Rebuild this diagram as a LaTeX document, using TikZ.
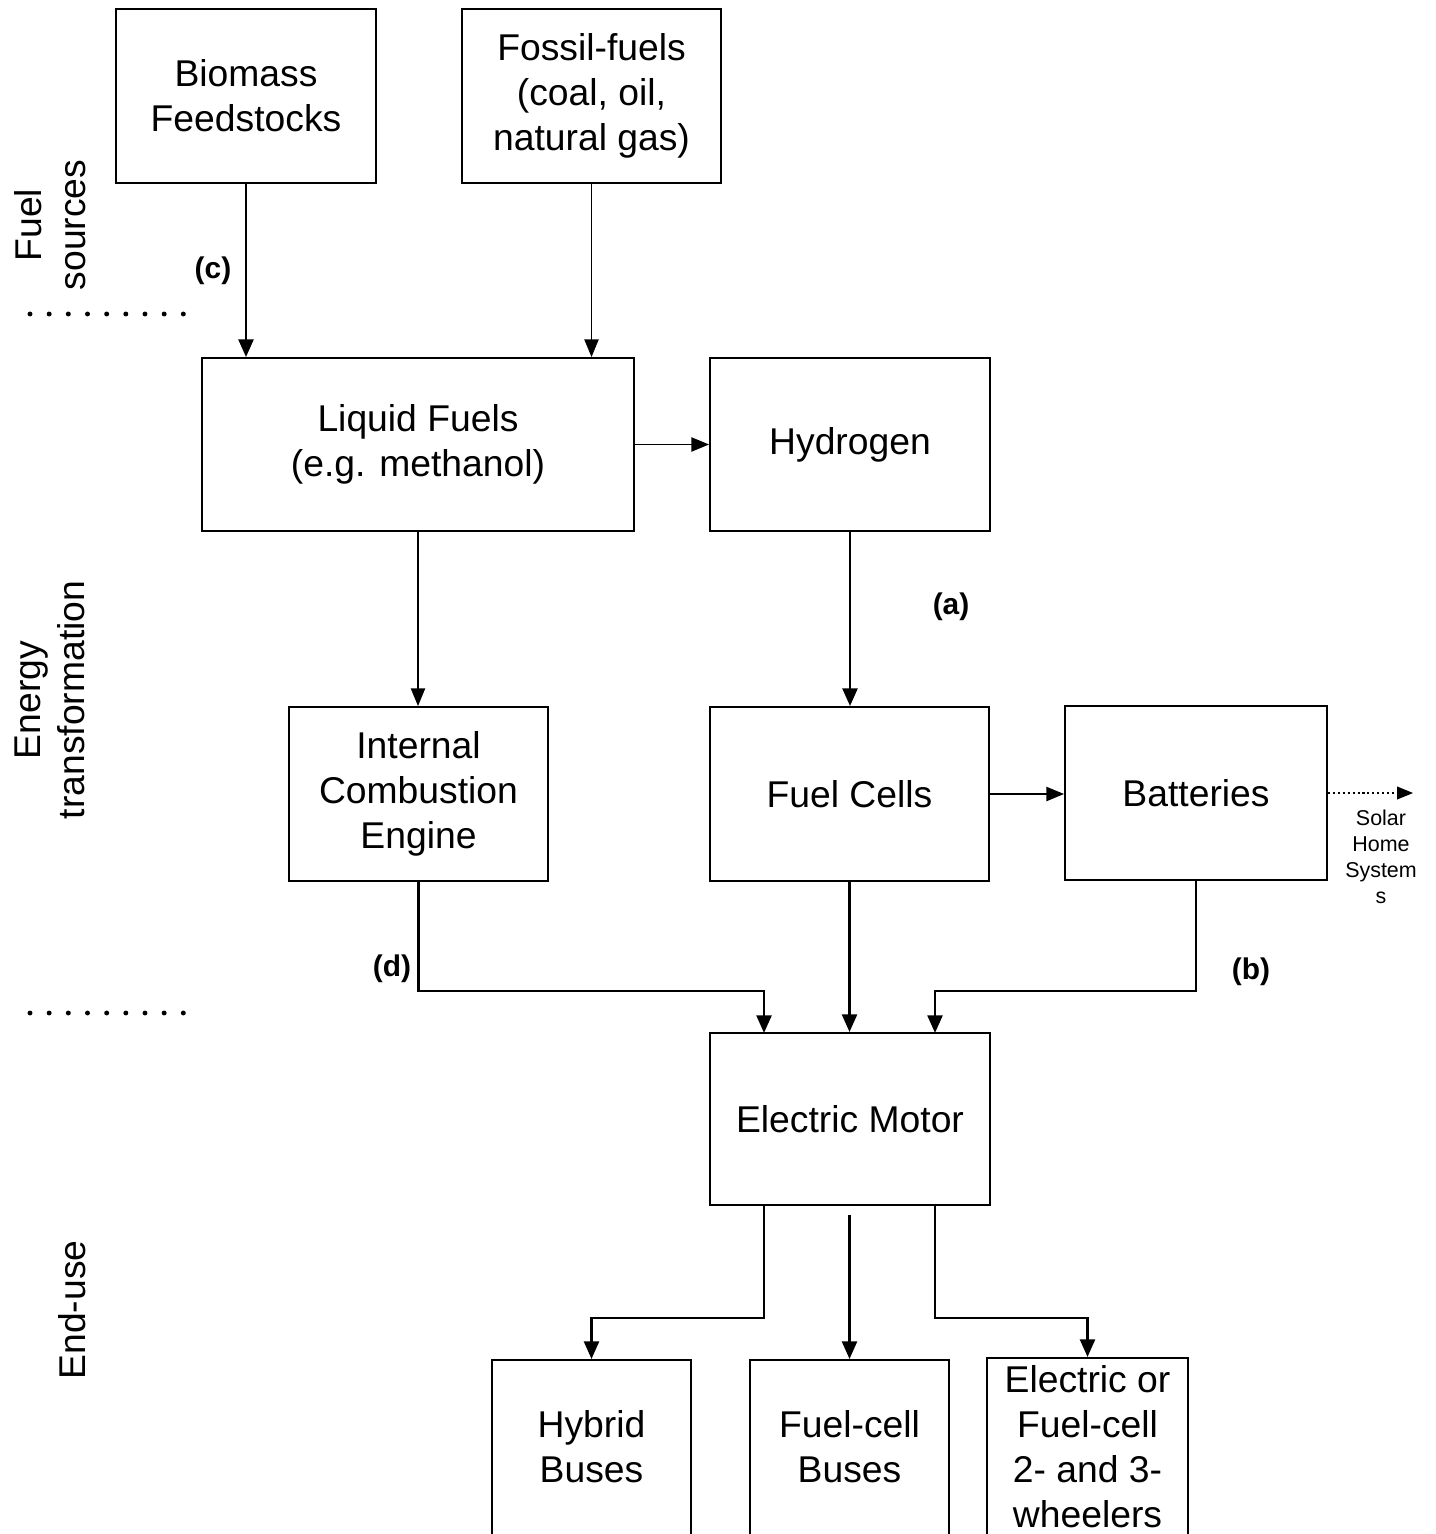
\documentclass[tikz,border=0pt]{standalone}
\usepackage{fontspec}
\setmainfont{Liberation Sans}
\usetikzlibrary{arrows.meta}
\begin{document}
\begin{tikzpicture}[x=0.01cm,y=-0.01cm,
  box/.style={draw,line width=0.5pt,align=center,inner sep=0pt,font=\fontsize{10.6}{12.8}\selectfont},
  btxt/.style={align=center,inner sep=0pt,font=\fontsize{10.6}{12.8}\selectfont},
  lab/.style={font=\bfseries\fontsize{8.5}{10}\selectfont},
  side/.style={rotate=90,align=center,font=\fontsize{10.6}{12.6}\selectfont},
  thinarr/.style={line width=0.5pt,-{Triangle[length=5pt,width=4pt]}},
  thickarr/.style={line width=0.8pt,-{Triangle[length=5pt,width=4.2pt]}},
  dots/.style={line width=1.4pt,line cap=round,dash pattern=on 0pt off 5.45pt}
]
\useasboundingbox (0,0) rectangle (1435,1534);
\clip (0,0) rectangle (1435,1534);

% side labels
\node[side] (fs) at (50,225) {Fuel\\sources};
\node[side] (et) at (50,700) {Energy\\transformation};
\node[side] (eu) at (72,1310) {End-use};
\draw[dots] (30,314) -- (190,314);
\draw[dots] (30,1013) -- (190,1013);

% boxes
\node[box,minimum width=2.6cm,minimum height=1.74cm] (bio) at (246,96) {Biomass\\Feedstocks};
\node[box,minimum width=2.59cm,minimum height=1.74cm] (fos) at (591.5,96) {Fossil-fuels\\(coal, oil,\\natural gas)};
\node[box,minimum width=4.32cm,minimum height=1.73cm] (liq) at (418,444.5) {Liquid Fuels\\(e.g. methanol)};
\node[box,minimum width=2.8cm,minimum height=1.73cm] (hyd) at (850,444.5) {Hydrogen};
\node[box,minimum width=2.59cm,minimum height=1.74cm] (ice) at (418.5,794) {Internal\\Combustion\\Engine};
\node[box,minimum width=2.79cm,minimum height=1.74cm] (fc) at (849.5,794) {Fuel Cells};
\node[box,minimum width=2.62cm,minimum height=1.74cm] (bat) at (1196,793) {Batteries};
\node[box,minimum width=2.8cm,minimum height=1.72cm] (mot) at (850,1119) {Electric Motor};
\node[box,minimum width=1.99cm,minimum height=3cm] (hyb) at (591.5,1510) {};
\node[box,minimum width=1.99cm,minimum height=3cm] (fcb) at (849.5,1510) {};
\node[box,minimum width=2.01cm,minimum height=3cm] (ele) at (1087.5,1508) {};
\node[btxt] (hybt) at (591.5,1447) {Hybrid\\Buses};
\node[btxt] (fcbt) at (849.5,1447) {Fuel-cell\\Buses};
\node[btxt] (elet) at (1087.5,1446.5) {Electric or\\Fuel-cell\\2- and 3-\\wheelers};

\node[align=center,inner sep=0pt,font=\fontsize{6.1}{7.4}\selectfont] (sol) at (1381,857) {Solar\\Home\\System\\s};

% labels
\node[lab] (lc) at (213,271) {(c)};
\node[lab] (la) at (951,607) {(a)};
\node[lab] (ld) at (392,969) {(d)};
\node[lab] (lb) at (1251,972) {(b)};

% connectors
\coordinate (mL) at (764,1033);
\coordinate (mR) at (935,1033);
\coordinate (bL) at (764,1205);
\coordinate (bM) at (849.5,1215);
\coordinate (bR) at (935,1205);
\coordinate (solend) at (1413,793);

\draw[thickarr] (bio.south) -- (bio.south |- liq.north);
\draw[thinarr] (fos.south) -- (fos.south |- liq.north);
\draw[thinarr] (liq.east) -- (liq.east -| hyd.west);
\draw[thinarr] (liq.south) -- (liq.south |- ice.north);
\draw[thickarr] (hyd.south) -- (hyd.south |- fc.north);
\draw[thinarr] (fc.east) -- (fc.east -| bat.west);
\draw[line width=0.4pt,dash pattern=on 0.6pt off 0.8pt,-{Triangle[length=4.5pt,width=3.6pt]}] (bat.east) -- (solend);
\draw[thickarr] (ice.south) -- (ice.south |- 0,991) -| (mL);
\draw[thickarr] (fc.south) -- (fc.south |- mot.north);
\draw[thickarr] (bat.south) -- (bat.south |- 0,991) -| (mR);
\draw[thickarr] (bL) -- (764,1318) -| (hyb.north);
\draw[thickarr] (bM) -- (bM |- fcb.north);
\draw[thickarr] (bR) -- (935,1318) -| (ele.north);
\end{tikzpicture}
\end{document}
